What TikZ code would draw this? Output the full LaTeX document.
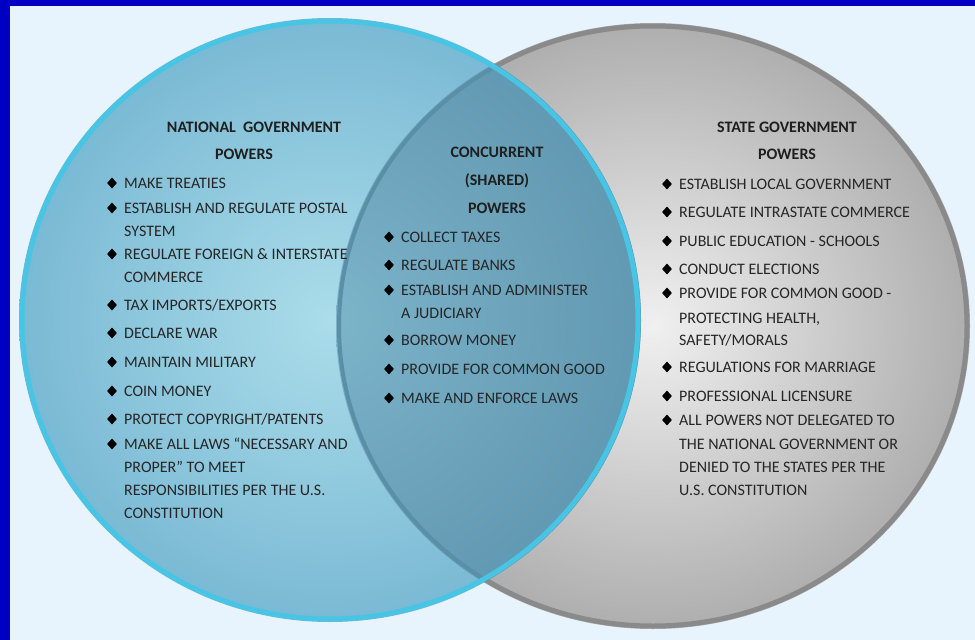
\documentclass[tikz,border=0pt]{standalone}
\usepackage{fontspec}
\setmainfont{Carlito}
\usetikzlibrary{shapes.geometric}
\definecolor{bg}{HTML}{E8F4FD}
\definecolor{frame}{HTML}{0000C4}
\definecolor{txt}{HTML}{262626}
\definecolor{blueIn}{HTML}{ABDDEA}
\definecolor{blueOut}{HTML}{7AB9D4}
\definecolor{blueEdge}{HTML}{48C4E4}
\definecolor{ovIn}{HTML}{7CB4CA}
\definecolor{ovOut}{HTML}{6299B2}
\definecolor{ovLine}{HTML}{5A8FA8}
\definecolor{greyIn}{HTML}{F0F0F0}
\definecolor{greyOut}{HTML}{AEAEAE}
\definecolor{greyEdge}{HTML}{8A8A8A}
\newcommand\vdln[4]{\node[itemtext] (#1) at ({#2},{#3+5.2}) {#4};}
\newcommand\vdbl[4]{\node[bulletmark] (#1b) at ({#2-12},{#3}) {};\node[itemtext] (#1) at ({#2},{#3+5.2}) {#4};}
\begin{document}
\begin{tikzpicture}[x=1pt,y=-1pt,
  itemtext/.style={font=\fontsize{16}{18}\selectfont, text=txt, inner sep=0pt, anchor=base west},
  headtext/.style={font=\fontsize{16}{18}\selectfont\bfseries, text=black!88, inner sep=0pt, anchor=base},
  bulletmark/.style={diamond, fill=black, draw=none, inner sep=0pt, minimum width=10pt, minimum height=11pt}]
\useasboundingbox (0,0) rectangle (975,640);
\fill[bg] (0,0) rectangle (975,640);
\fill[frame] (0,0) rectangle (975,6);
\fill[frame] (0,0) rectangle (10,640);
% right (state) ellipse
\shade[inner color=greyIn, outer color=greyOut] (653,326) ellipse [x radius=317, y radius=303];
\draw[greyEdge, line width=5pt] (653,326) ellipse [x radius=314, y radius=300];
% left (national) ellipse
\shade[inner color=blueIn, outer color=blueOut] (330,320) ellipse [x radius=311, y radius=302];
% overlap
\begin{scope}
  \clip (653,326) ellipse [x radius=317, y radius=303];
  \shade[inner color=ovIn, outer color=ovOut] (330,320) ellipse [x radius=311, y radius=302];
\end{scope}
\begin{scope}
  \clip (330,320) ellipse [x radius=311, y radius=302];
  \draw[ovLine, line width=4pt] (653,326) ellipse [x radius=314, y radius=300];
\end{scope}
\draw[blueEdge, line width=5pt] (330,320) ellipse [x radius=308, y radius=299];
% national
\node[headtext] (nh1) at (254,132.2) {NATIONAL\ \ GOVERNMENT};
\node[headtext] (nh2) at (244,159.2) {POWERS};
\vdbl{n1}{124}{183}{MAKE TREATIES}
\vdbl{n2}{124}{208}{ESTABLISH AND REGULATE POSTAL}
\vdln{n2a}{124}{231}{SYSTEM}
\vdbl{n3}{124}{254}{REGULATE FOREIGN \& INTERSTATE}
\vdln{n3a}{124}{277}{COMMERCE}
\vdbl{n4}{124}{305}{TAX IMPORTS/EXPORTS}
\vdbl{n5}{124}{333}{DECLARE WAR}
\vdbl{n6}{124}{362}{MAINTAIN MILITARY}
\vdbl{n7}{124}{391}{COIN MONEY}
\vdbl{n8}{124}{419}{PROTECT COPYRIGHT/PATENTS}
\vdbl{n9}{124}{444}{MAKE ALL LAWS “NECESSARY AND}
\vdln{n9a}{124}{467}{PROPER” TO MEET}
\vdln{n9b}{124}{490}{RESPONSIBILITIES PER THE U.S.}
\vdln{n9c}{124}{513}{CONSTITUTION}
% concurrent
\node[headtext] (ch1) at (497,157.2) {CONCURRENT};
\node[headtext] (ch2) at (497,185.2) {(SHARED)};
\node[headtext] (ch3) at (497,213.2) {POWERS};
\vdbl{c1}{401}{237}{COLLECT TAXES}
\vdbl{c2}{401}{265}{REGULATE BANKS}
\vdbl{c3}{401}{290}{ESTABLISH AND ADMINISTER}
\vdln{c3a}{401}{313}{A JUDICIARY}
\vdbl{c4}{401}{340}{BORROW MONEY}
\vdbl{c5}{401}{369}{PROVIDE FOR COMMON GOOD}
\vdbl{c6}{401}{398}{MAKE AND ENFORCE LAWS}
% state
\node[headtext] (sh1) at (787,132.2) {STATE GOVERNMENT};
\node[headtext] (sh2) at (787,159.2) {POWERS};
\vdbl{s1}{679}{184}{ESTABLISH LOCAL GOVERNMENT}
\vdbl{s2}{679}{212}{REGULATE INTRASTATE COMMERCE}
\vdbl{s3}{679}{241}{PUBLIC EDUCATION - SCHOOLS}
\vdbl{s4}{679}{269}{CONDUCT ELECTIONS}
\vdbl{s5}{679}{293}{PROVIDE FOR COMMON GOOD -}
\vdln{s5a}{679}{318}{PROTECTING HEALTH,}
\vdln{s5b}{679}{340}{SAFETY/MORALS}
\vdbl{s6}{679}{367}{REGULATIONS FOR MARRIAGE}
\vdbl{s7}{679}{396}{PROFESSIONAL LICENSURE}
\vdbl{s8}{679}{420}{ALL POWERS NOT DELEGATED TO}
\vdln{s8a}{679}{444}{THE NATIONAL GOVERNMENT OR}
\vdln{s8b}{679}{467}{DENIED TO THE STATES PER THE}
\vdln{s8c}{679}{490}{U.S. CONSTITUTION}
\end{tikzpicture}
\end{document}
